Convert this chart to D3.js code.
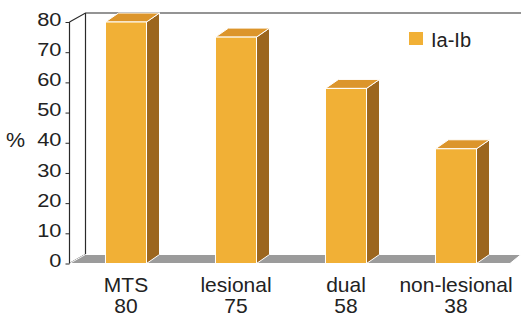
<!DOCTYPE html>
<html><head><meta charset="utf-8">
<script src="https://cdn.jsdelivr.net/npm/d3@7"></script>
<style>body{margin:0;background:#fff}svg{display:block;font-family:"Liberation Sans",Arial,sans-serif}</style>
</head><body><svg id="c" width="521" height="322"></svg>
<script>
const categories = ["MTS", "lesional", "dual", "non-lesional"];
const counts = ["80", "75", "58", "38"];
const values = [80, 75, 58, 38];
const yTicks = [0, 10, 20, 30, 40, 50, 60, 70, 80];
const seriesName = "Ia-Ib";

const svg = d3.select("#c");
const x = d3.scaleBand().domain(categories).range([71, 511]).paddingInner(0.627).paddingOuter(0.3135);
const y = d3.scaleLinear().domain([0, 80]).range([263.5, 22]);
const wdx = 16, wdy = -9;  // wall depth
const bdx = 13, bdy = -9;  // bar depth
const x0 = 69.5;

// back wall lines
const wall = svg.append("g").attr("fill","none").attr("stroke","#2a2a2a").attr("stroke-width",1.2);
wall.append("path").attr("d", `M${x0},${y(80)} L${x0+wdx},${y(80)+wdy} L521,${y(80)+wdy}`);
wall.append("path").attr("d", `M${x0+wdx},${y(80)+wdy} L${x0+wdx},${y(0)+wdy}`);

// floor
svg.append("path")
  .attr("d", `M${x0},${y(0)} L${x0+wdx},${y(0)+wdy} L521,${y(0)+wdy} L${521-wdx+5},${y(0)} Z`)
  .attr("fill","#9b9b9b").attr("stroke","#fff").attr("stroke-width",1);
wall.append("path").attr("d", `M${x0},${y(0)} L${x0+wdx},${y(0)+wdy}`);

// bars
const bars = svg.append("g").selectAll("g").data(categories).join("g");
bars.each(function(c, i){
  const g = d3.select(this);
  const bx = x(c), bw = x.bandwidth(), top = y(values[i]), bot = y(0);
  g.append("path").attr("d", `M${bx+bw},${bot} L${bx+bw+bdx},${bot+bdy} L${bx+bw+bdx},${top+bdy} L${bx+bw},${top} Z`)
    .attr("fill","#9c661e").attr("stroke","#fff").attr("stroke-width",1);
  g.append("path").attr("d", `M${bx},${top} L${bx+bdx},${top+bdy} L${bx+bw+bdx},${top+bdy} L${bx+bw},${top} Z`)
    .attr("fill","#dc952b").attr("stroke","#fff").attr("stroke-width",1);
  g.append("rect").attr("x",bx).attr("y",top).attr("width",bw).attr("height",bot-top)
    .attr("fill","#f1b036").attr("stroke","#fff").attr("stroke-width",1);
});

// y axis
const sy = 1.18;
const ax = svg.append("g").attr("transform",`translate(${x0},0)`)
  .call(d3.axisLeft(y).tickValues(yTicks).tickSize(4).tickPadding(4).tickFormat(d3.format("d")));
ax.select(".domain").attr("d", `M0,${y(80)} L0,${y(0)}`).attr("stroke","#2a2a2a").attr("stroke-width",1.2);
ax.selectAll(".tick line").attr("stroke","#2a2a2a");
ax.selectAll(".tick text").attr("font-size",18.5).attr("fill","#222")
  .attr("font-family","Liberation Sans, Arial, sans-serif")
  .attr("x", -8/sy).attr("dy","0.17em").attr("transform",`scale(${sy},1)`);

svg.append("text").attr("transform","translate(6,147) scale(1.1,1)").attr("font-size",19.5).attr("fill","#222").text("%");

// x labels
const sx = 1.05;
const xl = svg.append("g").selectAll("g").data(categories).join("g")
  .attr("transform", d => `translate(${x(d)+x.bandwidth()/2},0) scale(${sx},1)`)
  .attr("text-anchor","middle").attr("font-size",20).attr("fill","#222");
xl.append("text").attr("y",292).text(d => d);
xl.append("text").attr("y",313.5).text((d,i) => counts[i]);

// legend
svg.append("rect").attr("x",409).attr("y",32).attr("width",14).attr("height",13).attr("fill","#f1b036");
svg.append("text").attr("x",431).attr("y",46.5).attr("font-size",20).attr("fill","#222").text(seriesName);
</script></body></html>
